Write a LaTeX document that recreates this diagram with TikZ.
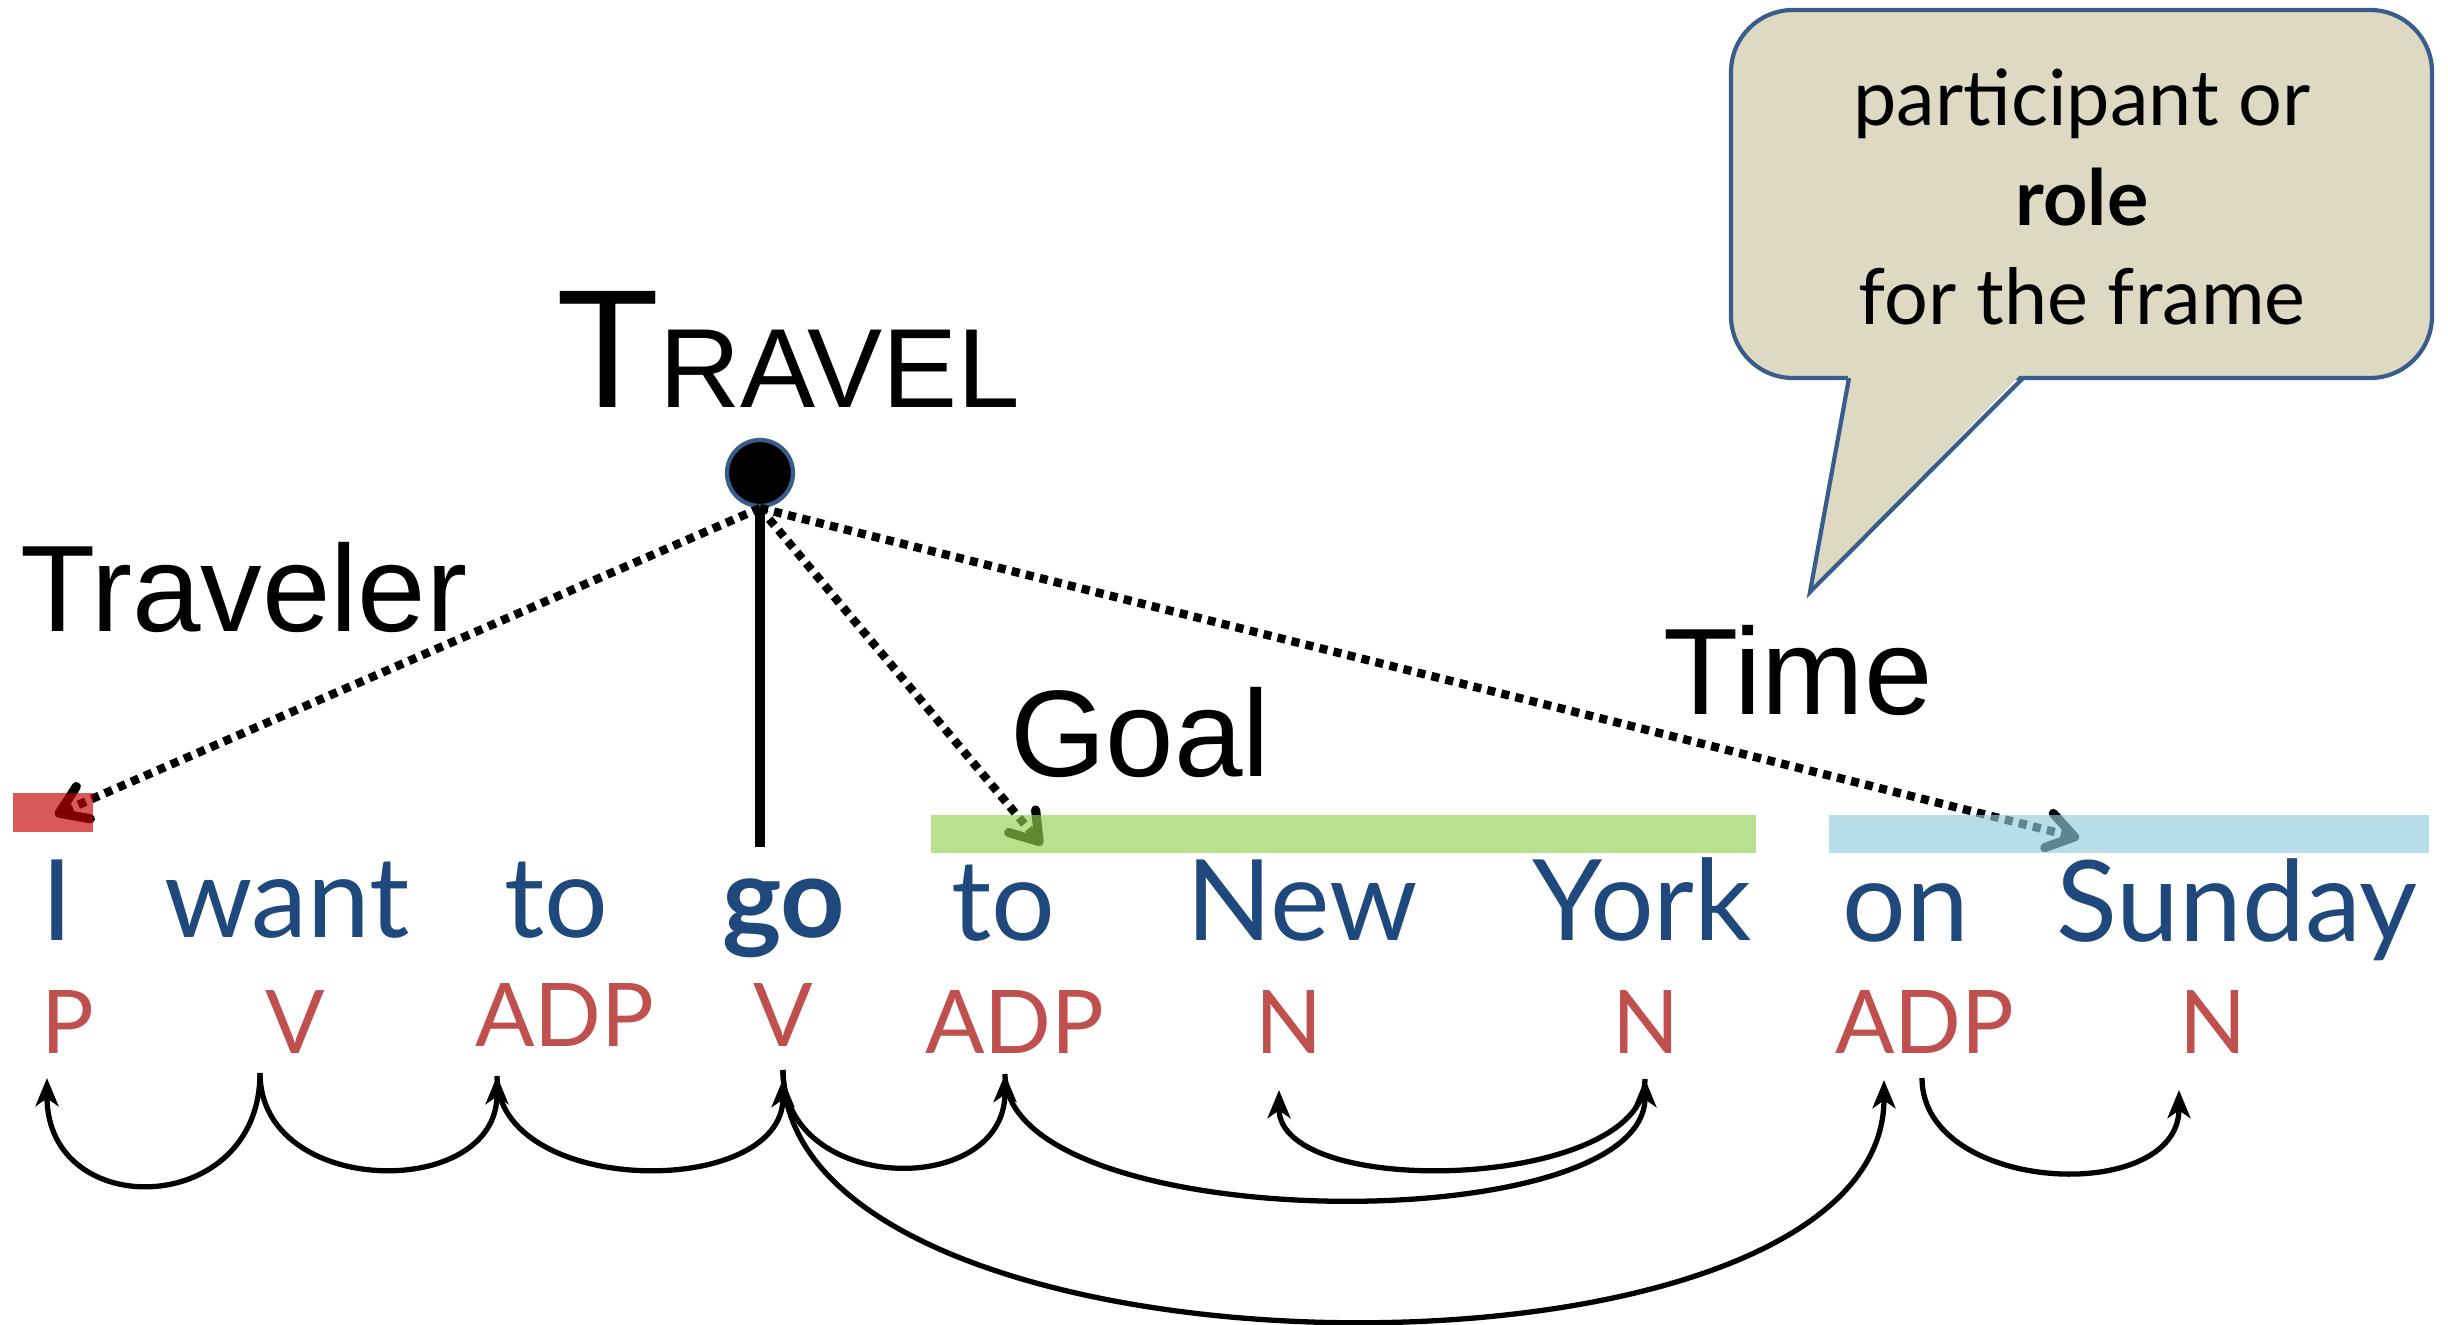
\documentclass[tikz,border=0pt]{standalone}
\usepackage{fontspec}
\setmainfont{Lato}
\newfontfamily\arialfont{Liberation Sans}
\usetikzlibrary{arrows.meta}

\definecolor{wordblue}{RGB}{31,73,125}
\definecolor{tagred}{RGB}{192,80,77}
\definecolor{balloonfill}{RGB}{221,217,195}
\definecolor{balloonline}{RGB}{56,93,138}
\definecolor{travelerred}{RGB}{197,0,0}
\definecolor{goalgreen}{RGB}{148,208,78}
\definecolor{timeblue}{RGB}{145,203,220}

\begin{document}
\begin{tikzpicture}[x=0.01cm, y=-0.01cm,
  word/.style={anchor=base, inner sep=0pt, text=wordblue, font=\fontsize{32}{38}\selectfont},
  tag/.style={anchor=base, inner sep=0pt, text=tagred, font=\fontsize{25}{30}\selectfont},
  role/.style={anchor=base, inner sep=0pt, font=\arialfont\fontsize{35}{42}\selectfont},
  slot/.style={-{Straight Barb[length=7.5pt,width=10pt,line width=2.6pt,round]}, line width=2.4pt, dash pattern=on 2.3pt off 1.8pt},
  dep/.style={-{Stealth[length=8pt,width=6.5pt,inset=2.2pt]}, line width=1.5pt},
  bar/.style={fill opacity=0.65}]
\useasboundingbox (0,0) rectangle (2448,1325);

% speech balloon
\draw[fill=balloonfill, draw=balloonline, line width=1.2pt, rounded corners=0.62cm] (1731,10) rectangle (2432,378);
\fill[balloonfill] (1849,372) -- (1810,592) -- (2023,372) -- cycle;
\draw[balloonline, line width=1.2pt, line join=miter, miter limit=20] (1849,378) -- (1810,592) -- (2023,378);
\node[align=center, font=\fontsize{22}{28.4}\selectfont] (rolenote) at (2082,197) {participant or\\\textbf{role}\\for the frame};

% frame and its roles
\node[anchor=base, inner sep=0pt, font=\arialfont\fontsize{48}{56}\selectfont] (travel) at (788,408) {T\fontsize{32}{38}\selectfont RAVEL};
\node[role] (traveler) at (244,632) {Traveler};
\node[role] (goal) at (1140,777) {Goal};
\node[role] (time) at (1798,715) {Time};

\coordinate (stem) at (760,847);
\coordinate (travtip) at (55,815);
\coordinate (goaltip) at (1042,845);
\coordinate (timetip) at (2079,838);

\draw[line width=3pt] (760,473) -- (stem);
\node[circle, inner sep=0pt, minimum size=0.66cm, fill=black, draw=balloonline, line width=1.2pt] (frame) at (760,473) {};

\draw[slot] (frame.south) -- (travtip);
\draw[slot] (frame.south) -- (goaltip);
\draw[slot] (frame.south) -- (timetip);

% role spans
\fill[travelerred, bar] (13,793) rectangle (93,832);
\fill[goalgreen, bar] (931,815) rectangle (1756,853);
\fill[timeblue, bar] (1829,815) rectangle (2429,853);

% sentence
\node[word] (w1) at (57,940) {I};
\node[word] (w2) at (287,938) {want};
\node[word] (w3) at (556,938) {to};
\node[word] (w4) at (784,938) {\textbf{go}};
\node[word] (w5) at (1003,940) {to};
\node[word] (w6) at (1302,940) {New};
\node[word] (w7) at (1642,940) {York};
\node[word] (w8) at (1906,942) {on};
\node[word] (w9) at (2237,942) {Sunday};

% part-of-speech tags
\node[tag] (t1) at (68,1053) {P};
\node[tag] (t2) at (295,1053) {V};
\node[tag] (t3) at (565,1046) {ADP};
\node[tag] (t4) at (783,1046) {V};
\node[tag] (t5) at (1015,1053) {ADP};
\node[tag] (t6) at (1289,1053) {N};
\node[tag] (t7) at (1646,1053) {N};
\node[tag] (t8) at (1925,1053) {ADP};
\node[tag] (t9) at (2213,1053) {N};

% dependency arcs
\draw[dep] ([shift={(-35,20)}]t2.base) .. controls +(0,145) and +(0,145) .. ([shift={(-21,25)}]t1.base);
\draw[dep] ([shift={(-35,20)}]t2.base) .. controls +(0,125) and +(0,125) .. ([shift={(-68,30)}]t3.base);
\draw[dep] ([shift={(-68,30)}]t3.base) .. controls +(0,121) and +(0,121) .. ([shift={(0,33)}]t4.base);
\draw[dep] ([shift={(0,24)}]t4.base) .. controls +(0,125) and +(0,125) .. ([shift={(-10,21)}]t5.base);
\draw[dep] ([shift={(-10,21)}]t5.base) .. controls +(0,163) and +(0,163) .. ([shift={(-1,26)}]t7.base);
\draw[dep] ([shift={(-1,26)}]t7.base) .. controls +(0,111) and +(0,111) .. ([shift={(-10,37)}]t6.base);
\draw[dep] ([shift={(0,24)}]t4.base) .. controls +(0,327) and +(0,327) .. ([shift={(-41,27)}]t8.base);
\draw[dep] ([shift={(-3,25)}]t8.base) .. controls +(0,116) and +(0,116) .. ([shift={(-34,37)}]t9.base);
\end{tikzpicture}
\end{document}
